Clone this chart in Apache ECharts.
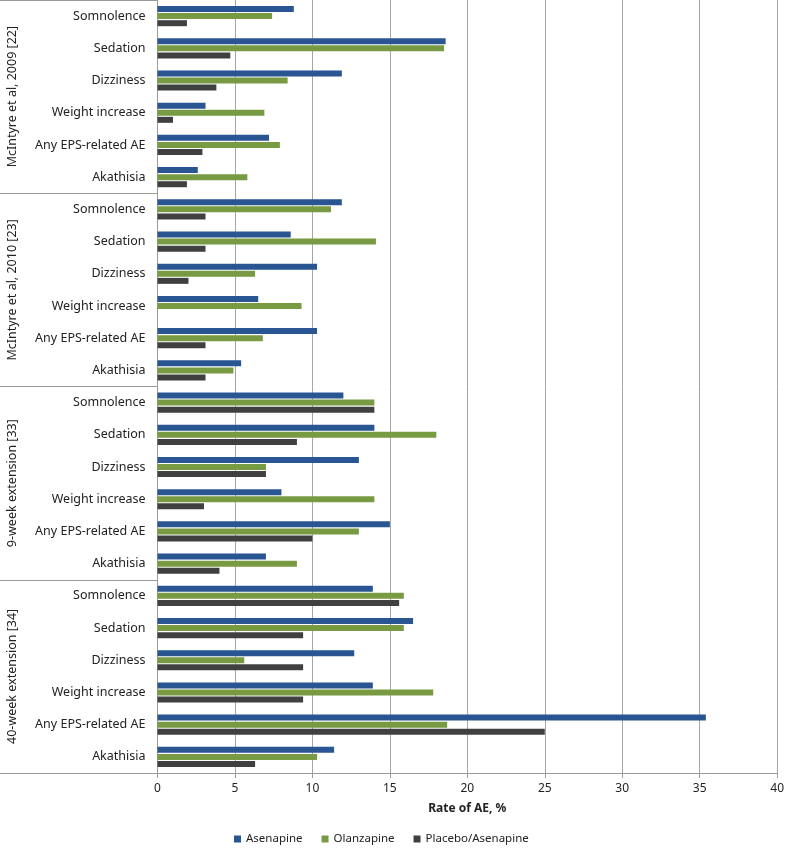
<!DOCTYPE html>
<html>
<head>
<meta charset="utf-8">
<script src="https://cdn.jsdelivr.net/npm/echarts@6/dist/echarts.min.js"></script>
<style>html,body{margin:0;padding:0;background:#fff}#c{width:787px;height:861px}</style>
</head>
<body>
<div id="c"></div>
<script>
const groups = ['McIntyre et al, 2009 [22]', 'McIntyre et al, 2010 [23]', '9-week extension [33]', '40-week extension [34]'];
const aeTypes = ['Somnolence', 'Sedation', 'Dizziness', 'Weight increase', 'Any EPS-related AE', 'Akathisia'];
const seriesNames = ['Asenapine', 'Olanzapine', 'Placebo/Asenapine'];
const xTicks = { min: 0, max: 40, interval: 5 };

// values per group, in aeTypes order
const asenapine = [
  8.8, 18.6, 11.9, 3.1, 7.2, 2.6,
  11.9, 8.6, 10.3, 6.5, 10.3, 5.4,
  12, 14, 13, 8, 15, 7,
  13.9, 16.5, 12.7, 13.9, 35.4, 11.4
];
const olanzapine = [
  7.4, 18.5, 8.4, 6.9, 7.9, 5.8,
  11.2, 14.1, 6.3, 9.3, 6.8, 4.9,
  14, 18, 7, 14, 13, 9,
  15.9, 15.9, 5.6, 17.8, 18.7, 10.3
];
const placebo = [
  1.9, 4.7, 3.8, 1.0, 2.9, 1.9,
  3.1, 3.1, 2.0, 0, 3.1, 3.1,
  14, 9, 7, 3, 10, 4,
  15.6, 9.4, 9.4, 9.4, 25, 6.3
];

const categories = [];
groups.forEach((g, gi) => aeTypes.forEach(t => categories.push(gi + '|' + t)));

const colors = ['#2A5593', '#789A43', '#404040'];
const font = 'Noto Sans';

const chart = echarts.init(document.getElementById('c'), null, { renderer: 'canvas' });
const barCommon = {
  type: 'bar',
  barWidth: 6,
  barGap: '18%',
  itemStyle: { borderColor: '#ffffff', borderWidth: 0 }
};
chart.setOption({
  animation: false,
  color: colors,
  textStyle: { fontFamily: font },
  grid: { left: 157.5, right: 9, top: -1, bottom: 88, containLabel: false },
  legend: {
    data: seriesNames,
    bottom: 11,
    left: 229,
    itemWidth: 7,
    itemHeight: 7,
    itemGap: 19,
    icon: 'rect',
    textStyle: { fontFamily: font, fontSize: 11.5, color: '#222' }
  },
  xAxis: {
    type: 'value',
    min: xTicks.min, max: xTicks.max, interval: xTicks.interval,
    name: 'Rate of AE, %',
    nameLocation: 'middle',
    nameGap: 30,
    nameTextStyle: { fontFamily: font, fontSize: 12, fontWeight: 'bold', color: '#222' },
    axisLine: { show: true, lineStyle: { color: '#9a9a9a' } },
    axisTick: { show: true, length: 5, lineStyle: { color: '#9a9a9a' } },
    axisLabel: { fontFamily: font, fontSize: 12, color: '#222', margin: 10 },
    splitLine: { show: true, lineStyle: { color: '#a6a6a6', width: 1 } }
  },
  yAxis: [
    {
      type: 'category',
      data: categories,
      inverse: true,
      axisLine: { show: true, lineStyle: { color: '#9a9a9a' } },
      axisTick: { show: false },
      axisLabel: {
        fontFamily: font, fontSize: 12.5, color: '#222', margin: 12,
        formatter: v => v.split('|')[1]
      }
    },
    {
      type: 'category',
      data: groups,
      inverse: true,
      position: 'left',
      offset: 158.5,
      axisLine: { show: false },
      axisTick: { show: true, inside: true, length: 158, lineStyle: { color: '#9a9a9a' } },
      axisLabel: {
        inside: true, rotate: 90, margin: 7,
        fontFamily: font, fontSize: 12.5, color: '#222'
      }
    }
  ],
  series: [
    Object.assign({ name: seriesNames[0], data: asenapine }, barCommon),
    Object.assign({ name: seriesNames[1], data: olanzapine }, barCommon),
    Object.assign({ name: seriesNames[2], data: placebo }, barCommon)
  ]
});
</script>
</body>
</html>
